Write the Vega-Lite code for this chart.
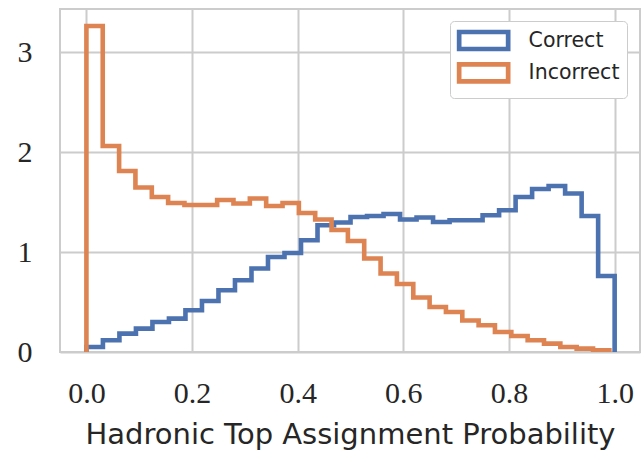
{
  "$schema": "https://vega.github.io/schema/vega-lite/v6.json",
  "width": 580,
  "height": 343,
  "padding": {"left": 60, "top": 9, "right": 1, "bottom": 100},
  "autosize": {"type": "none"},
  "background": "white",
  "data": {
    "values": [
      {"s":"Correct","i":0,"p":0,"d":0},
      {"s":"Correct","i":1,"p":0,"d":0.05},
      {"s":"Correct","i":2,"p":0.03125,"d":0.117},
      {"s":"Correct","i":3,"p":0.0625,"d":0.184},
      {"s":"Correct","i":4,"p":0.09375,"d":0.234},
      {"s":"Correct","i":5,"p":0.125,"d":0.30},
      {"s":"Correct","i":6,"p":0.15625,"d":0.334},
      {"s":"Correct","i":7,"p":0.1875,"d":0.417},
      {"s":"Correct","i":8,"p":0.21875,"d":0.51},
      {"s":"Correct","i":9,"p":0.25,"d":0.617},
      {"s":"Correct","i":10,"p":0.28125,"d":0.717},
      {"s":"Correct","i":11,"p":0.3125,"d":0.835},
      {"s":"Correct","i":12,"p":0.34375,"d":0.95},
      {"s":"Correct","i":13,"p":0.375,"d":0.99},
      {"s":"Correct","i":14,"p":0.40625,"d":1.118},
      {"s":"Correct","i":15,"p":0.4375,"d":1.268},
      {"s":"Correct","i":16,"p":0.46875,"d":1.295},
      {"s":"Correct","i":17,"p":0.5,"d":1.35},
      {"s":"Correct","i":18,"p":0.53125,"d":1.36},
      {"s":"Correct","i":19,"p":0.5625,"d":1.38},
      {"s":"Correct","i":20,"p":0.59375,"d":1.325},
      {"s":"Correct","i":21,"p":0.625,"d":1.345},
      {"s":"Correct","i":22,"p":0.65625,"d":1.30},
      {"s":"Correct","i":23,"p":0.6875,"d":1.318},
      {"s":"Correct","i":24,"p":0.71875,"d":1.318},
      {"s":"Correct","i":25,"p":0.75,"d":1.368},
      {"s":"Correct","i":26,"p":0.78125,"d":1.418},
      {"s":"Correct","i":27,"p":0.8125,"d":1.55},
      {"s":"Correct","i":28,"p":0.84375,"d":1.63},
      {"s":"Correct","i":29,"p":0.875,"d":1.66},
      {"s":"Correct","i":30,"p":0.90625,"d":1.585},
      {"s":"Correct","i":31,"p":0.9375,"d":1.36},
      {"s":"Correct","i":32,"p":0.96875,"d":0.76},
      {"s":"Correct","i":33,"p":1.0,"d":0.76},
      {"s":"Correct","i":34,"p":1.0,"d":0},
      {"s":"Incorrect","i":0,"p":0,"d":0},
      {"s":"Incorrect","i":1,"p":0,"d":3.26},
      {"s":"Incorrect","i":2,"p":0.0309,"d":2.06},
      {"s":"Incorrect","i":3,"p":0.0619,"d":1.81},
      {"s":"Incorrect","i":4,"p":0.0928,"d":1.645},
      {"s":"Incorrect","i":5,"p":0.1238,"d":1.55},
      {"s":"Incorrect","i":6,"p":0.1547,"d":1.49},
      {"s":"Incorrect","i":7,"p":0.1856,"d":1.47},
      {"s":"Incorrect","i":8,"p":0.2166,"d":1.47},
      {"s":"Incorrect","i":9,"p":0.2475,"d":1.52},
      {"s":"Incorrect","i":10,"p":0.2784,"d":1.485},
      {"s":"Incorrect","i":11,"p":0.3094,"d":1.535},
      {"s":"Incorrect","i":12,"p":0.3403,"d":1.46},
      {"s":"Incorrect","i":13,"p":0.3713,"d":1.49},
      {"s":"Incorrect","i":14,"p":0.4022,"d":1.39},
      {"s":"Incorrect","i":15,"p":0.4331,"d":1.325},
      {"s":"Incorrect","i":16,"p":0.4641,"d":1.22},
      {"s":"Incorrect","i":17,"p":0.495,"d":1.11},
      {"s":"Incorrect","i":18,"p":0.5259,"d":0.935},
      {"s":"Incorrect","i":19,"p":0.5569,"d":0.785},
      {"s":"Incorrect","i":20,"p":0.5878,"d":0.68},
      {"s":"Incorrect","i":21,"p":0.6188,"d":0.545},
      {"s":"Incorrect","i":22,"p":0.6497,"d":0.45},
      {"s":"Incorrect","i":23,"p":0.6806,"d":0.40},
      {"s":"Incorrect","i":24,"p":0.7116,"d":0.315},
      {"s":"Incorrect","i":25,"p":0.7425,"d":0.267},
      {"s":"Incorrect","i":26,"p":0.7734,"d":0.20},
      {"s":"Incorrect","i":27,"p":0.8044,"d":0.16},
      {"s":"Incorrect","i":28,"p":0.8353,"d":0.117},
      {"s":"Incorrect","i":29,"p":0.8663,"d":0.084},
      {"s":"Incorrect","i":30,"p":0.8972,"d":0.05},
      {"s":"Incorrect","i":31,"p":0.9281,"d":0.034},
      {"s":"Incorrect","i":32,"p":0.9591,"d":0.017},
      {"s":"Incorrect","i":33,"p":0.99,"d":0.017},
      {"s":"Incorrect","i":34,"p":0.99,"d":0}
    ]
  },
  "mark": {"type": "line", "interpolate": "step-after", "strokeWidth": 4.6, "strokeJoin": "miter", "strokeCap": "butt", "clip": true},
  "encoding": {
    "x": {
      "field": "p", "type": "quantitative",
      "scale": {"domain": [-0.05, 1.048], "nice": false, "zero": false},
      "axis": {"values": [0, 0.2, 0.4, 0.6, 0.8, 1.0], "format": ".1f", "title": "Hadronic Top Assignment Probability", "titleY": 91, "titleBaseline": "alphabetic", "labelPadding": 50, "labelBaseline": "alphabetic", "labelFontSize": 30, "titleFontSize": 29}
    },
    "y": {
      "field": "d", "type": "quantitative",
      "scale": {"domain": [0, 3.43], "nice": false},
      "axis": {"values": [0, 1, 2, 3], "format": "d", "title": null, "labelPadding": 28, "labelFontSize": 30}
    },
    "color": {
      "field": "s", "type": "nominal",
      "scale": {"domain": ["Correct", "Incorrect"], "range": ["#4c72b0", "#dd8452"]},
      "legend": {
        "title": null, "orient": "none", "legendX": 390, "legendY": 12,
        "symbolType": "M-1.035,-0.85H3.865V0.85H-1.035Z", "symbolSize": 400, "symbolStrokeWidth": 4.7,
        "symbolFillColor": "white", "labelOffset": 46.6, "padding": 7, "rowPadding": -4.7,
        "fillColor": "white", "strokeColor": "#cccccc", "cornerRadius": 4
      }
    },
    "order": {"field": "i", "type": "quantitative"}
  },
  "config": {
    "view": {"stroke": "#cccccc", "strokeWidth": 2},
    "axis": {
      "grid": true, "gridColor": "#cccccc", "gridWidth": 2, "domain": false, "ticks": false, "tickSize": 0,
      "labelFont": "Liberation Serif", "labelColor": "#262626",
      "titleFont": "DejaVu Sans", "titleColor": "#262626", "titleFontWeight": "normal"
    },
    "legend": {"labelFont": "DejaVu Sans", "labelFontSize": 20.5, "labelColor": "#262626"}
  }
}
